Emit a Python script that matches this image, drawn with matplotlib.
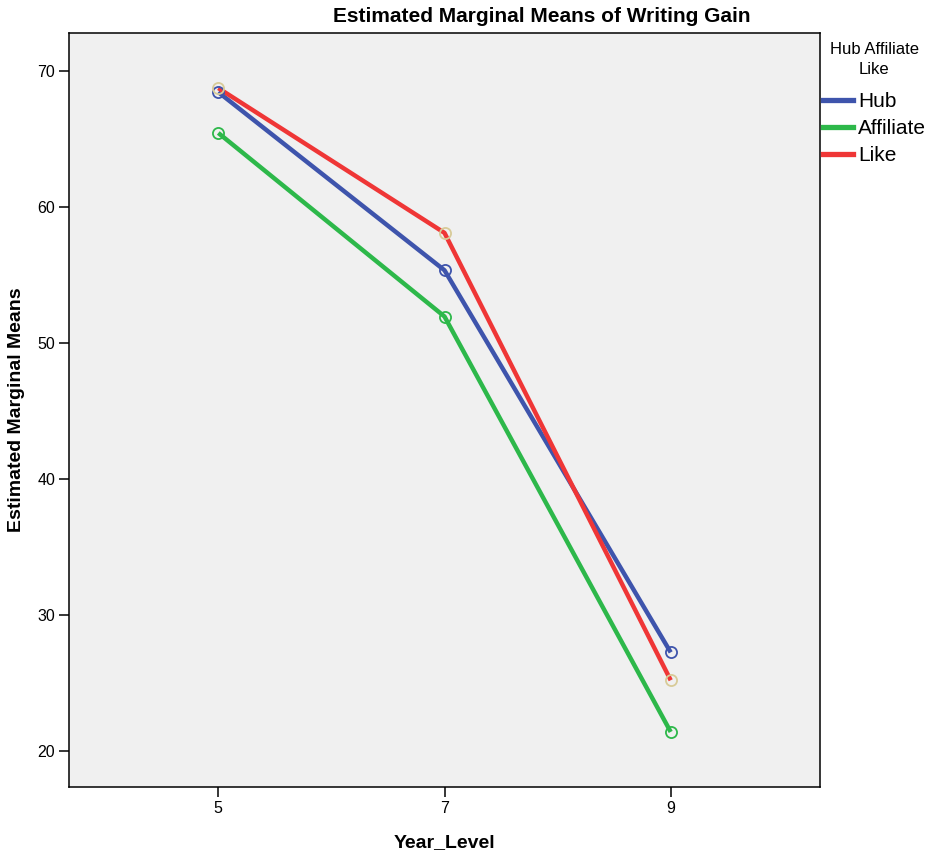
import matplotlib
matplotlib.use("Agg")
import matplotlib.pyplot as plt
from matplotlib.lines import Line2D

plt.rcParams['font.family'] = ['Liberation Sans', 'DejaVu Sans']

year_levels = ["5", "7", "9"]
groups = ["Hub", "Affiliate", "Like"]
hub = [68.45, 55.35, 27.25]
affiliate = [65.45, 51.95, 21.4]
like = [68.75, 58.1, 25.2]

line_colors = {"Hub": "#3e54ac", "Affiliate": "#2db84a", "Like": "#ef3636"}
marker_colors = {"Hub": "#3e54ac", "Affiliate": "#2db84a", "Like": "#d8cb98"}
series = {"Hub": hub, "Affiliate": affiliate, "Like": like}

fig = plt.figure(figsize=(9.31, 8.5), dpi=100)
ax = fig.add_axes([69 / 931, 1 - 787 / 850, (820 - 69) / 931, (787 - 33) / 850])
ax.set_facecolor("#f0f0f0")

x = list(range(len(year_levels)))
for g in groups:
    ax.plot(x, series[g], color=line_colors[g], lw=3.2, solid_capstyle="butt", zorder=2)
for g in groups:
    ax.plot(x, series[g], ls="none", marker="o", ms=8, mfc="none",
            mec=marker_colors[g], mew=1.3, zorder=3)

ax.set_xlim(-0.66, 2.66)
ax.set_ylim(17.35, 72.8)
ax.set_xticks(x)
ax.set_xticklabels(year_levels)
ax.set_yticks([20, 30, 40, 50, 60, 70])
ax.tick_params(axis="both", labelsize=11.5, length=7, width=1.1, direction="out", pad=3)
for s in ax.spines.values():
    s.set_linewidth(1.1)

ax.set_xlabel("Year_Level", fontsize=14, fontweight="bold", labelpad=13)
ax.set_ylabel("Estimated Marginal Means", fontsize=14, fontweight="bold", labelpad=9)
fig.text(542 / 931, 1 - 17 / 850, "Estimated Marginal Means of Writing Gain",
         ha="center", va="center", fontsize=15, fontweight="bold")

handles = [Line2D([0], [0], color=line_colors[g], lw=3.8) for g in groups]
leg = fig.legend(handles, groups, loc="upper left", bbox_to_anchor=(823 / 931, 1 - 42 / 850),
                 title="Hub Affiliate\nLike", fontsize=15, title_fontsize=12,
                 frameon=False, handlelength=1.45, handletextpad=0.22, labelspacing=0.38,
                 borderaxespad=0, borderpad=0)
leg.get_title().set_multialignment("center")
leg.get_title().set_linespacing(1.4)
leg._legend_box.sep = 11

fig.savefig("out.png", dpi=100)
